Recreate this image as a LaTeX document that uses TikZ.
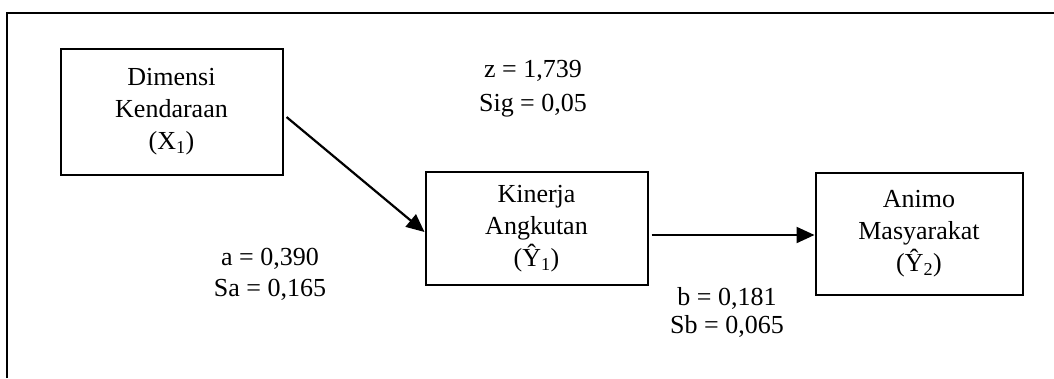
\documentclass[tikz,border=0pt]{standalone}
\usepackage{fontspec}
\setmainfont{Liberation Serif}
\usetikzlibrary{arrows.meta}
\begin{document}
\begin{tikzpicture}[x=1pt,y=-1pt,
  box/.style={draw, line width=2pt, align=center, inner sep=0pt,
    font=\fontsize{26pt}{32pt}\selectfont},
  lbl/.style={align=center, inner sep=0pt},
  arr/.style={-{Triangle[length=18pt,width=16pt]}, line width=2.2pt},
  frame/.style={line width=2.2pt}]
\useasboundingbox (0,0) rectangle (1054,378);
\draw[frame] (7,378) -- (7,13) -- (1060,13);
\node[box, minimum width=222pt, minimum height=126pt] (d) at (171.5,111.5)
  {Dimensi\\Kendaraan\\(X\textsubscript{1})};
\node[box, minimum width=222pt, minimum height=113pt] (k) at (536.5,228.5)
  {Kinerja\\Angkutan\\(Ŷ\textsubscript{1})};
\node[box, minimum width=207pt, minimum height=122pt] (an) at (919,233.5)
  {Animo\\Masyarakat\\(Ŷ\textsubscript{2})};
\node[lbl, font=\fontsize{26pt}{34pt}\selectfont] (z) at (533,89) {z = 1,739\\Sig = 0,05};
\node[lbl, font=\fontsize{26pt}{31pt}\selectfont] (a) at (270,274.5) {a = 0,390\\Sa = 0,165};
\node[lbl, font=\fontsize{26pt}{28pt}\selectfont] (b) at (727,312) {b = 0,181\\Sb = 0,065};
\draw[arr, shorten <=4pt] ([yshift=-3pt]d.east) -- ([yshift=-3.5pt]k.west);
\draw[arr] ([xshift=3pt,yshift=-6.5pt]k.east) -- ([yshift=-1.5pt]an.west);
\end{tikzpicture}
\end{document}
